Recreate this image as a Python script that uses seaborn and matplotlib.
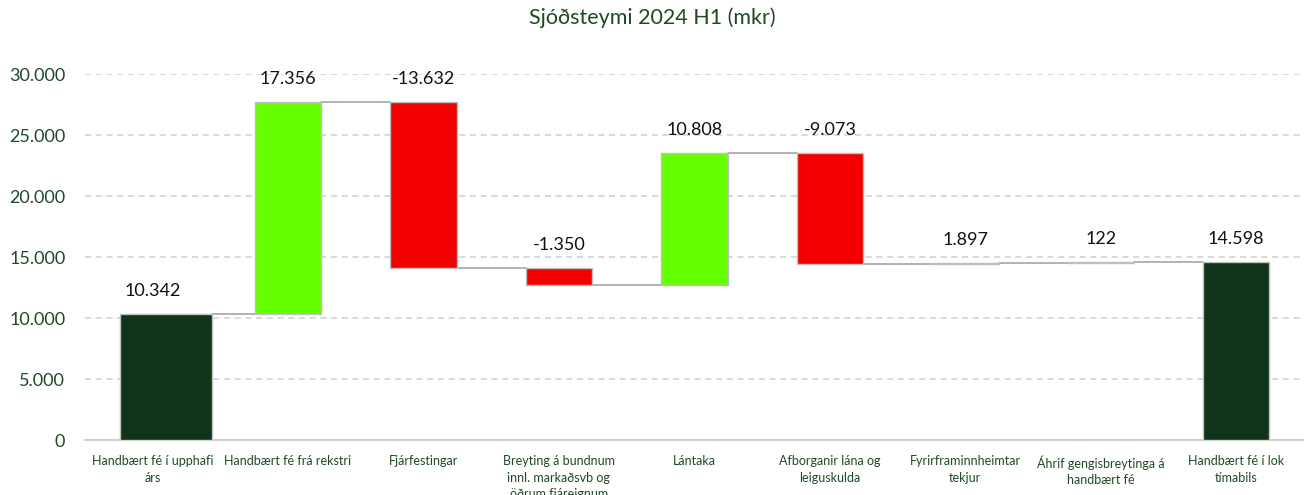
import matplotlib
matplotlib.use("Agg")
import matplotlib.pyplot as plt
import seaborn as sns
import pandas as pd
import numpy as np

# ---- data ----
categories = [
    "Handbært fé í upphafi\nárs",
    "Handbært fé frá rekstri",
    "Fjárfestingar",
    "Breyting á bundnum\ninnl. markaðsvb og\nöðrum fjáreignum",
    "Lántaka",
    "Afborganir lána og\nleiguskulda",
    "Fyrirframinnheimtar\ntekjur",
    "Áhrif gengisbreytinga á\nhandbært fé",
    "Handbært fé í lok\ntímabils",
]
label_values = [10342, 17356, -13632, -1350, 10808, -9073, 1897, 122, 14598]
# step heights as drawn in the picture
step_values = [10342, 17356, -13632, -1350, 10808, -9073, 25, 122, 14598]
kinds = ["total", "delta", "delta", "delta", "delta", "delta", "delta", "delta", "total"]

# ---- waterfall geometry from data ----
bottoms, heights, tops = [], [], []
running = 0.0
for v, k in zip(step_values, kinds):
    if k == "total":
        bottoms.append(0.0); heights.append(v); running = v
    else:
        start, end = running, running + v
        bottoms.append(min(start, end)); heights.append(abs(v)); running = end
    tops.append(bottoms[-1] + heights[-1])
levels = []
running = 0.0
for v, k in zip(step_values, kinds):
    running = v if k == "total" else running + v
    levels.append(running)

df = pd.DataFrame({"cat": categories, "height": heights})

sns.set_theme(style="white")
plt.rcParams["font.family"] = ["Lato", "DejaVu Sans"]

fig = plt.figure(figsize=(13.04, 4.95), dpi=100)
ax = fig.add_axes([0.065, 0.111, 0.935, 0.7395])

bar_w = 0.49
sns.barplot(data=df, x="cat", y="height", bottom=bottoms, width=bar_w,
            order=categories, ax=ax, color="#888888", saturation=1, zorder=3)

dark = "#10341a"
lime = "#66ff00"
red = "#f20000"
for i, p in enumerate(ax.patches):
    if kinds[i] == "total":
        fc = dark
    elif step_values[i] >= 0:
        fc = lime
    else:
        fc = red
    p.set_facecolor(fc)
    p.set_edgecolor("#bfbfbf")
    p.set_linewidth(1.0)
# first bar is drawn wider in the reference
p0 = ax.patches[0]
p0.set_width(0.68)
p0.set_x(-0.24)

# connectors
for i in range(len(categories) - 1):
    p = ax.patches[i]
    q = ax.patches[i + 1]
    ax.plot([p.get_x() + p.get_width(), q.get_x()], [levels[i], levels[i]],
            color="#a6a6a6", lw=1.2, zorder=2)

# data labels
for i, v in enumerate(label_values):
    txt = f"{v:,}".replace(",", ".")
    ax.annotate(txt, (i, tops[i]), xytext=(0, 11), textcoords="offset points",
                ha="center", va="bottom", fontsize=13, color="#111111",
                annotation_clip=False)

ax.set_xlim(-0.5, 8.5)
ax.set_ylim(0, 30000)
ax.set_yticks(np.arange(0, 30001, 5000))
ax.set_yticklabels([f"{int(t):,}".replace(",", ".") if t else "0" for t in np.arange(0, 30001, 5000)],
                   fontsize=13, color="#1e4a26")
ax.tick_params(axis="y", length=0, pad=14)
ax.tick_params(axis="x", length=0, pad=11, labelsize=9, labelcolor="#1e4a26")
for t in ax.get_xticklabels():
    t.set_linespacing(1.45)
ax.set_xlabel("")
ax.set_ylabel("")
ax.yaxis.grid(True, color="#d0d0d0", linestyle=(0, (4, 3)), lw=1.1)
ax.set_axisbelow(True)
for s in ["top", "right", "left"]:
    ax.spines[s].set_visible(False)
ax.spines["bottom"].set_color("#c8c8c8")
ax.spines["bottom"].set_linewidth(1.2)

fig.suptitle("Sjóðsteymi 2024 H1 (mkr)", y=0.985, fontsize=15.5, color="#1e4a26")

fig.savefig("out.png", dpi=100)
